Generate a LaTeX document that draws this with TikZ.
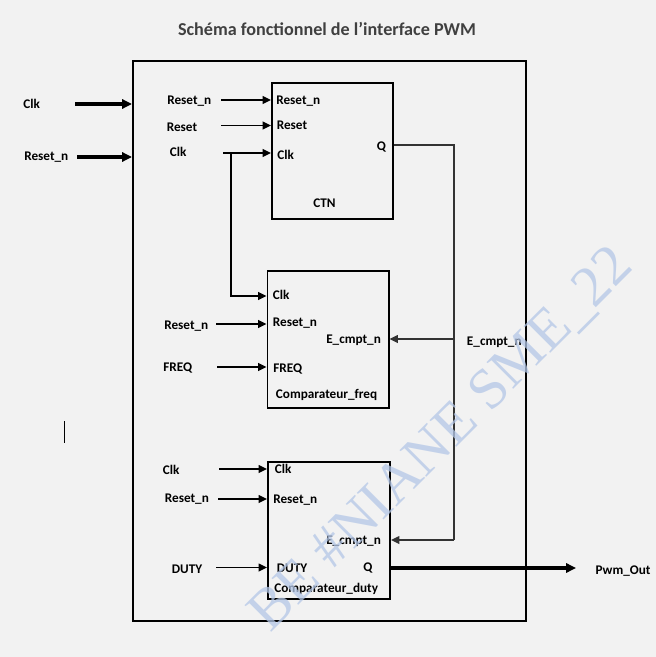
\documentclass[tikz,border=0pt]{standalone}
\usepackage{fontspec}
\setmainfont{Carlito}
\newfontfamily\wmfont{Liberation Serif}
\usepackage{xcolor}
\usepackage{tikz}
\usetikzlibrary{positioning,arrows.meta,calc}
\definecolor{PWMBack}{HTML}{F2F2F2}
\definecolor{PWMTitle}{HTML}{404040}
\definecolor{PWMWater}{HTML}{B4C7E7}
\definecolor{PWMWire}{HTML}{333333}
\newcommand{\lblsize}{\bfseries\fontsize{9.4}{11}\selectfont}

\begin{document}
\begin{tikzpicture}[x=0.025cm,y=-0.025cm,
 lbl/.style={inner sep=0pt,anchor=base west,font=\lblsize},
 block/.style={draw,line width=1.4pt,inner sep=0pt},
 sig/.style={-{Triangle[length=6pt,width=5.5pt]},line width=1.1pt},
 wire/.style={line width=1.2pt,draw=PWMWire},
 bus/.style={-{Triangle[length=7pt,width=6.5pt]},line width=2.2pt}]
% fond et cadre
\fill[PWMBack] (0,0) rectangle (656,657);
\useasboundingbox (0,0) rectangle (656,657);
\node[font=\bfseries\fontsize{12.9}{15}\selectfont,text=PWMTitle,inner sep=0pt,anchor=base] (title) at (327,36) {Schéma fonctionnel de l’interface PWM};
\node[block,minimum width=9.825cm,minimum height=14cm] (top) at (329.5,341) {};
% blocs
\node[block,minimum width=3.025cm,minimum height=3.4cm] (ctn) at (332.5,151) {};
\node[block,minimum width=3.025cm,minimum height=3.425cm] (freq) at (328,339.5) {};
\node[block,minimum width=3.05cm,minimum height=3.425cm] (duty) at (329,530.5) {};
% entrees du module
\node[lbl] (topClk) at (23,108) {Clk};
\node[lbl] (topRstn) at (24,160) {Reset\_n};
\coordinate (topClkSrc) at (75,104);
\coordinate (topRstnSrc) at (77,157);
\draw[bus] (topClkSrc) -- (topClkSrc -| top.west);
\draw[bus] (topRstnSrc) -- (topRstnSrc -| top.west);
% CTN
\node[lbl] (ctnRstnIn) at (167,104) {Reset\_n};
\node[lbl] (ctnRstIn) at (166.5,131) {Reset};
\node[lbl] (ctnClkIn) at (169.5,156) {Clk};
\node[lbl] (ctnRstn) at (276,104) {Reset\_n};
\node[lbl] (ctnRst) at (276.5,129) {Reset};
\node[lbl] (ctnClk) at (277,159) {Clk};
\node[lbl] (ctnQ) at (376.5,150) {Q};
\node[lbl] (ctnName) at (313,207) {CTN};
\coordinate (ctnRstnSrc) at (221,100);
\coordinate (ctnRstSrc) at (221,125.5);
\coordinate (ctnClkSrc) at (223,153);
\coordinate (clkTurn) at (231,296);
\draw[sig] (ctnRstnSrc) -- (ctnRstnSrc -| ctn.west);
\draw[sig] (ctnRstSrc) -- (ctnRstSrc -| ctn.west);
\draw[sig] (ctnClkSrc) -- (ctnClkSrc -| ctn.west);
\draw[sig] (clkTurn |- ctnClkSrc) -- (clkTurn) -- (clkTurn -| freq.west);
% Comparateur_freq
\node[lbl] (freqRstnIn) at (164,329) {Reset\_n};
\node[lbl] (freqFreqIn) at (163,371) {FREQ};
\node[lbl] (freqClk) at (272.7,299) {Clk};
\node[lbl] (freqRstn) at (272.7,326) {Reset\_n};
\node[lbl] (freqCmpt) at (326,343) {E\_cmpt\_n};
\node[lbl] (freqFreq) at (273,372) {FREQ};
\node[lbl] (freqName) at (275.7,398) {Comparateur\_freq};
\coordinate (freqRstnSrc) at (216,324);
\coordinate (freqFreqSrc) at (217,367);
\draw[sig] (freqRstnSrc) -- (freqRstnSrc -| freq.west);
\draw[sig] (freqFreqSrc) -- (freqFreqSrc -| freq.west);
% bus E_cmpt_n
\coordinate (qTurn) at (454,145);
\coordinate (cmptTap) at (454,339);
\coordinate (cmptEnd) at (454,540);
\node[lbl] (cmptName) at (466.7,345) {E\_cmpt\_n};
\draw[wire] (qTurn -| ctn.east) -- (qTurn) -- (cmptEnd);
\draw[sig,draw=PWMWire] (cmptTap) -- (cmptTap -| freq.east);
\draw[sig,draw=PWMWire] (cmptEnd) -- (cmptEnd -| duty.east);
% Comparateur_duty
\node[lbl] (dutyClkIn) at (162.5,474) {Clk};
\node[lbl] (dutyRstnIn) at (164.6,502) {Reset\_n};
\node[lbl] (dutyDutyIn) at (171.6,573) {DUTY};
\node[lbl] (dutyClk) at (274.6,473) {Clk};
\node[lbl] (dutyRstn) at (273,503) {Reset\_n};
\node[lbl] (dutyCmpt) at (326,544) {E\_cmpt\_n};
\node[lbl] (dutyDuty) at (276.6,572) {DUTY};
\node[lbl] (dutyQ) at (363,571) {Q};
\node[lbl] (dutyName) at (274,592) {Comparateur\_duty};
\coordinate (dutyClkSrc) at (219,469);
\coordinate (dutyRstnSrc) at (218,499);
\coordinate (dutyDutySrc) at (216,567.5);
\draw[sig] (dutyClkSrc) -- (dutyClkSrc -| duty.west);
\draw[sig] (dutyRstnSrc) -- (dutyRstnSrc -| duty.west);
\draw[sig] (dutyDutySrc) -- (dutyDutySrc -| duty.west);
% sortie
\node[lbl] (pwmOut) at (595.4,574) {Pwm\_Out};
\coordinate (pwmEnd) at (576,568);
\draw[bus] (pwmEnd -| duty.east) -- (pwmEnd);
% curseur
\coordinate (caretTop) at (64.5,421);
\coordinate (caretBot) at (64.5,443);
\draw[line width=0.7pt] (caretTop) -- (caretBot);
% filigrane
\node[rotate=45,text=PWMWater,opacity=0.75,inner sep=0pt,font=\wmfont\fontsize{41}{41}\selectfont] (water) at (442,440) {BE \#NIANE SME\_22};
\end{tikzpicture}
\end{document}
